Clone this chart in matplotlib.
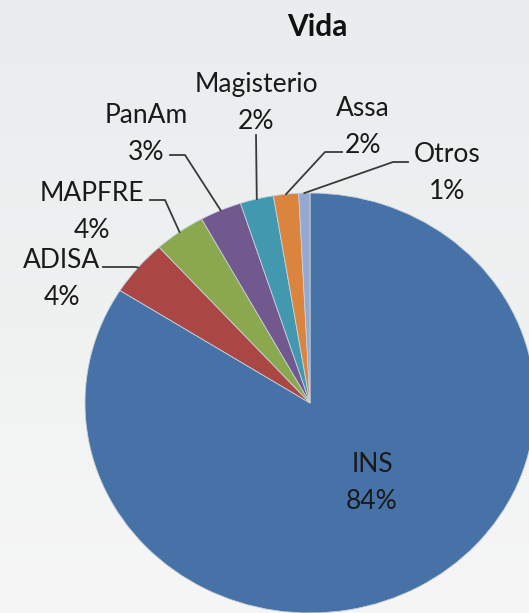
import numpy as np
import matplotlib.pyplot as plt
from matplotlib.colors import LinearSegmentedColormap

# data
companies = ["INS", "ADISA", "MAPFRE", "PanAm", "Magisterio", "Assa", "Otros"]
shares = [84.0, 4.3, 3.7, 3.0, 2.4, 1.8, 0.8]
colors = ["#4672a8", "#aa4744", "#8aa94f", "#71588f", "#4198af", "#db843d", "#93a9cf"]

# label layout in pixel coords: text centre, line start, elbow (None = text inside slice)
label_pos = [(372, 483), (62, 279), (92, 212), (146, 134), (256, 103), (363, 127), (447, 173)]
line_start = [None, (103, 267), (150, 200), (170, 155), (256, 135), (342, 152), (408, 162)]
line_elbow = [None, (136, 267), (165, 200), (185, 155), (256, 135), (325, 152), (393, 162)]

W, H = 529, 613
cx, cy = 310, 403      # pie centre in px
rx, ry = 225, 210      # the reference pie is slightly stretched sideways

fig = plt.figure(figsize=(W / 100, H / 100), dpi=100)
ax = fig.add_axes([0, 0, 1, 1])

xlim = (-cx / rx, (W - cx) / rx)
ylim = (-(H - cy) / ry, cy / ry)

# background gradient
bg = LinearSegmentedColormap.from_list("bg", ["#f6f6f6", "#e9eded"])
ax.imshow(np.linspace(0, 1, 256).reshape(-1, 1), cmap=bg, origin="lower",
          extent=[xlim[0], xlim[1], ylim[0], ylim[1]], zorder=-1)

wedges, _ = ax.pie(shares, colors=colors, startangle=90, counterclock=False,
                   wedgeprops=dict(linewidth=0.6, edgecolor="#c8d0dc"))

ax.set_aspect("auto")
ax.set_xlim(*xlim)
ax.set_ylim(*ylim)
ax.axis("off")


def px(p):
    return ((p[0] - cx) / rx, (cy - p[1]) / ry)


font = "Lato"
for i, w in enumerate(wedges):
    txt = f"{companies[i]}\n{shares[i]:.0f}%"
    ax.text(*px(label_pos[i]), txt, ha="center", va="center", fontsize=19,
            family=font, color="#1a1a1a", linespacing=1.6)
    if line_start[i] is None:
        continue
    mid = np.deg2rad((w.theta1 + w.theta2) / 2)
    end = (np.cos(mid), np.sin(mid))
    s, e = px(line_start[i]), px(line_elbow[i])
    ax.plot([s[0], e[0], end[0]], [s[1], e[1], end[1]], color="#3a3a3a", lw=1.3)

fig.text(317 / W, 1 - 27 / H, "Vida", ha="center", va="center", fontsize=21.5,
         fontweight="bold", family=font, color="#111111")

fig.savefig("out.png", dpi=100)
